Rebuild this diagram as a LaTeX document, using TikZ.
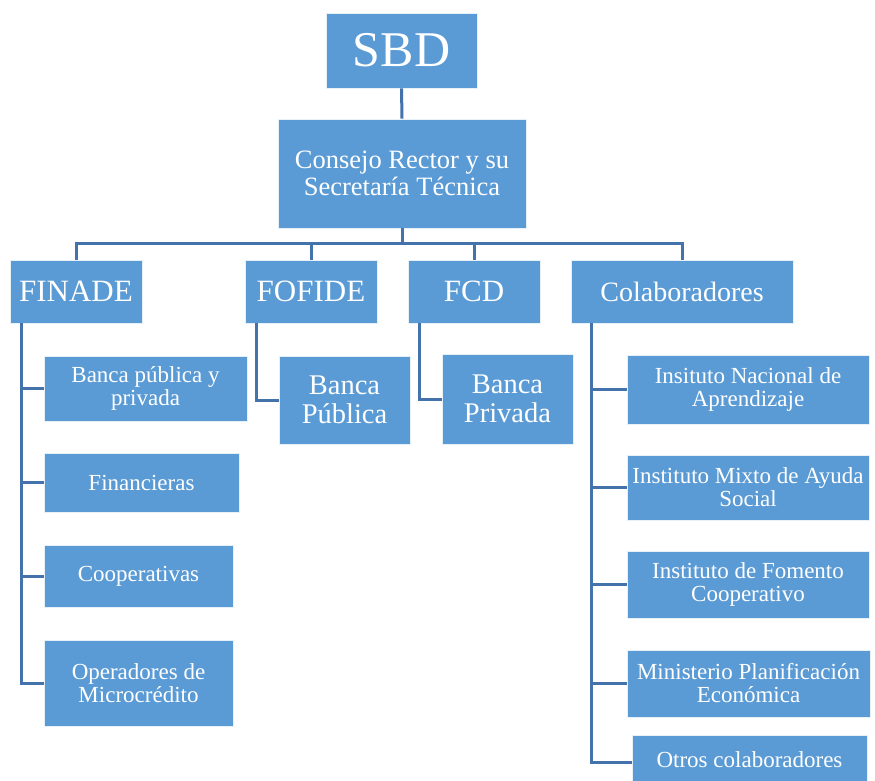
\documentclass[tikz,border=0pt]{standalone}
\usepackage{fontspec}
\setmainfont{Liberation Serif}
\definecolor{boxblue}{RGB}{91,155,213}
\definecolor{linkblue}{RGB}{68,114,170}
\tikzset{
  box/.style={fill=boxblue, draw=white!85!boxblue, line width=0.8pt, text=white, inner sep=0pt, align=center},
  link/.style={draw=linkblue, line width=3pt},
  fs/.style={font=\fontsize{#1}{#1}\selectfont}
}
\begin{document}
\begin{tikzpicture}[x=1pt,y=-1pt]
\useasboundingbox (0,0) rectangle (875,780);
% nodes
\node[box, fs=50, minimum width=151, minimum height=75] (sbd) at (401.5,50.5) {SBD};
\node[box, fs=26.5, minimum width=248, minimum height=109] (consejo) at (402,173.5) {Consejo Rector y su\\Secretaría Técnica};
\node[box, fs=31, minimum width=132, minimum height=63] (finade) at (76,291.5) {FINADE};
\node[box, fs=31, minimum width=132, minimum height=63] (fofide) at (311,291.5) {FOFIDE};
\node[box, fs=31, minimum width=132, minimum height=63] (fcd) at (474,291.5) {FCD};
\node[box, fs=28, minimum width=222, minimum height=63] (colab) at (682,291.5) {Colaboradores};
% FINADE children
\node[box, fs=23, minimum width=203, minimum height=65] (bpp) at (145.5,388.5) {Banca pública y\\privada};
\node[box, fs=23, minimum width=195, minimum height=59] (fin) at (141.5,482.5) {Financieras};
\node[box, fs=23, minimum width=189, minimum height=62] (coop) at (138.5,576) {Cooperativas};
\node[box, fs=23, minimum width=189, minimum height=86] (oper) at (138.5,683) {Operadores de\\Microcrédito};
% FOFIDE / FCD children
\node[box, fs=28.5, minimum width=131, minimum height=88] (bpub) at (344.5,400) {Banca\\Pública};
\node[box, fs=28.5, minimum width=131, minimum height=90] (bpriv) at (507.5,399) {Banca\\Privada};
% Colaboradores children
\node[box, fs=23, minimum width=242, minimum height=69] (ina) at (748,389.5) {Insituto Nacional de\\Aprendizaje};
\node[box, fs=23, minimum width=242, minimum height=65] (imas) at (748,487.5) {Instituto Mixto de Ayuda\\Social};
\node[box, fs=23, minimum width=242, minimum height=67] (ifc) at (748,584.5) {Instituto de Fomento\\Cooperativo};
\node[box, fs=23, minimum width=243, minimum height=67] (mp) at (748.5,683.5) {Ministerio Planificación\\Económica};
\node[box, fs=23, minimum width=235, minimum height=50] (otros) at (749.5,760) {Otros colaboradores};
% connectors
\draw[link] (sbd.south) -- (consejo.north);
\coordinate (bar) at ([yshift=-15pt]consejo.south);
\draw[link] (consejo.south) -- (bar);
\draw[link] (finade.north) |- (bar) -| (colab.north);
\draw[link] (fofide.north) -- (fofide.north |- bar);
\draw[link] (fcd.north) -- (fcd.north |- bar);
% FINADE spine
\coordinate (fs) at ([xshift=12pt]finade.south west);
\foreach \c in {bpp,fin,coop,oper} \draw[link] (fs) |- (\c.west);
\coordinate (fos) at ([xshift=12pt]fofide.south west);
\draw[link] (fos) |- (bpub.west);
\coordinate (fcs) at ([xshift=12pt]fcd.south west);
\draw[link] (fcs) |- (bpriv.west);
\coordinate (cs) at ([xshift=21pt]colab.south west);
\foreach \c in {ina,imas,ifc,mp} \draw[link] (cs) |- (\c.west);
\draw[link] (cs) |- ([yshift=-2pt]otros.west);
\end{tikzpicture}
\end{document}
